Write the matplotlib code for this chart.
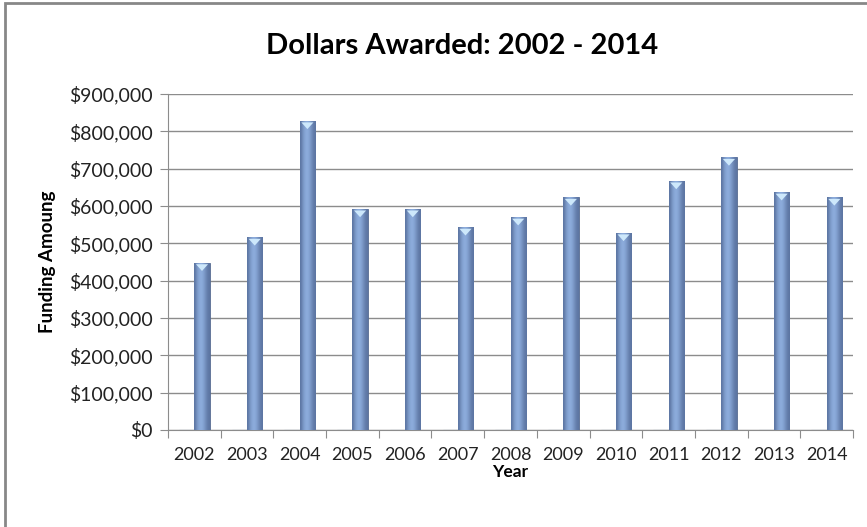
# %%
import numpy as np
import matplotlib.pyplot as plt
from matplotlib.patches import Rectangle
from matplotlib.ticker import FuncFormatter
from matplotlib.colors import LinearSegmentedColormap


# %%
years = ["2002", "2003", "2004", "2005", "2006", "2007", "2008",
         "2009", "2010", "2011", "2012", "2013", "2014"]
awarded = [448000, 516000, 828000, 592000, 592000, 543000, 570000,
           623000, 528000, 667000, 730000, 637000, 623000]
# first series in the Excel chart is empty, it only shows as a flat line at $0
empty_series = [0] * len(years)

plt.rcParams['font.family'] = ['Lato', 'DejaVu Sans']


# %%
fig = plt.figure(figsize=(8.67, 5.27), dpi=100)
ax = fig.add_axes([0.1938, 0.1841, 0.7901, 0.6375])

x = np.arange(len(years))
w = 0.29

ax.bar(x - w / 2, empty_series, width=w, color="#7f9ccb",
       edgecolor="#6f88b4", linewidth=0.8, zorder=3)
bars = ax.bar(x + w / 2, awarded, width=w, color="#7f9ccb",
              edgecolor="#55698f", linewidth=0.6, zorder=3)

# cylinder-ish shading like the Excel bevel style
grad = np.array([[0.0, 0.55, 0.85, 1.0, 0.85, 0.55, 0.2, 0.0]])
cmap = LinearSegmentedColormap.from_list("bar", ["#5d76a3", "#8eaede"])
for b in bars:
    x0, y0 = b.get_x(), b.get_y()
    im = ax.imshow(grad, cmap=cmap, aspect="auto", interpolation="bicubic",
                   extent=(x0, x0 + b.get_width(), y0, y0 + b.get_height()),
                   zorder=4)
    im.set_clip_path(b)
    # light bevel at the top
    top = b.get_height()
    ax.fill([x0 + 0.03, x0 + b.get_width() - 0.03, x0 + b.get_width() / 2],
            [top - 4000, top - 4000, top - 22000],
            color="#cde8fb", zorder=5, linewidth=0)

ax.set_xlim(-0.5, len(years) - 0.5)
ax.set_ylim(0, 900000)
ax.set_yticks(np.arange(0, 900001, 100000))
ax.yaxis.set_major_formatter(FuncFormatter(lambda v, p: f"${v:,.0f}"))

ax.set_xticks(np.arange(-0.5, len(years), 1))
ax.set_xticklabels([])
ax.set_xticks(x, minor=True)
ax.set_xticklabels(years, minor=True)
ax.tick_params(axis="x", which="minor", length=0, labelsize=13, pad=12,
               colors="#222222")
ax.tick_params(axis="x", which="major", length=6, color="#8c8c8c")
ax.tick_params(axis="y", length=6, color="#8c8c8c", labelsize=14,
               labelcolor="#222222", pad=5)

ax.grid(axis="y", color="#8c8c8c", linewidth=1, zorder=0)
ax.set_axisbelow(True)
for s in ["top", "right"]:
    ax.spines[s].set_visible(False)
for s in ["left", "bottom"]:
    ax.spines[s].set_color("#8c8c8c")

ax.set_xlabel("Year", fontsize=12.5, fontweight="bold", labelpad=1)
ax.set_ylabel("Funding Amoung", fontsize=13.5, fontweight="bold", labelpad=9)
fig.text(0.533, 0.913, "Dollars Awarded: 2002 - 2014", ha="center",
         va="center", fontsize=21, fontweight="bold")

# chart area border (runs off the right and bottom of the picture)
fig.add_artist(Rectangle((0.006, -0.1), 1.2, 1.094, transform=fig.transFigure,
                         fill=False, edgecolor="#878787", linewidth=2))

fig.savefig("out.png", dpi=100)
